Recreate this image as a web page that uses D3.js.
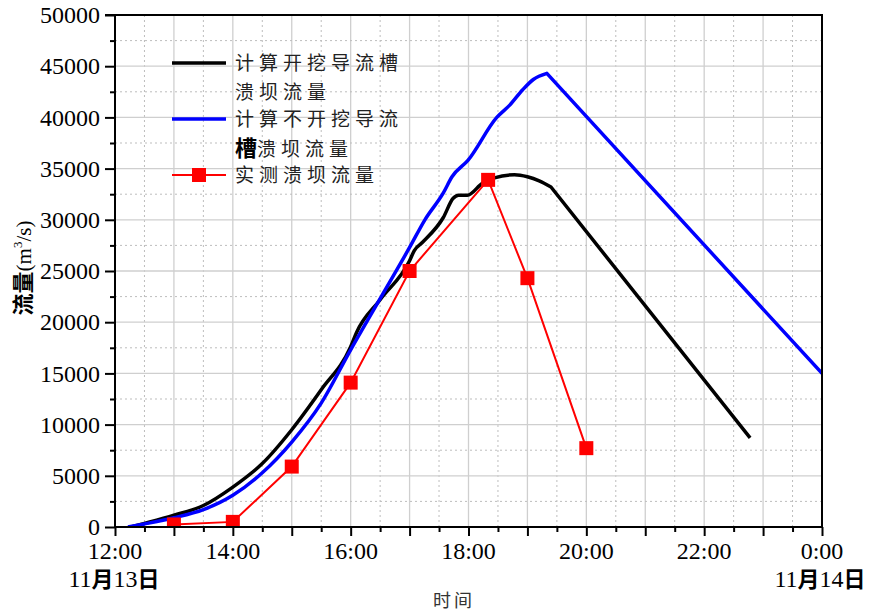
<!DOCTYPE html>
<html><head><meta charset="utf-8">
<script src="https://cdn.jsdelivr.net/npm/d3@7"></script>
<style>
body{margin:0;background:#fff;}
svg{display:block;}
</style></head>
<body>
<svg id="chart" width="869" height="613"></svg>
<script>
// ---- data (time in hours since 0:00 on 11/13; 24 = 0:00 11/14) ----
// rising (curved) part, then the final point is joined by a straight segment
const blackTimes  = [12.27,12.5,13.0,13.5,14.0,14.5,15.0,15.5,16.0,16.1,16.5,17.0,17.08,17.22,17.57,17.74,17.83,17.98,18.24,18.44,18.78,19.0,19.2,19.4,22.78];
const blackValues = [0,350,1150,2100,3900,6200,9500,13400,17600,19000,22200,26000,27000,27800,30200,32100,32400,32400,33600,34100,34400,34200,33800,33200,8700];
const blueTimes   = [12.22,12.5,13.0,13.5,14.0,14.5,15.0,15.5,16.0,16.5,17.0,17.26,17.57,17.72,17.99,18.48,18.70,18.92,19.1,19.33,24.0];
const blueValues  = [0,300,900,1700,3100,5300,8300,12100,17300,22300,27300,30000,32600,34200,35800,40000,41200,42700,43700,44300,15000];
const redTimes    = [13.0,14.0,15.0,16.0,17.0,18.333,19.0,20.0];
const redValues   = [250,500,5900,14100,25000,33900,24300,7700];
const seriesNames = ["计算开挖导流槽","溃坝流量","计算不开挖导流","槽","溃坝流量","实测溃坝流量"];
const xTickValues = [12,14,16,18,20,22,24];
const xTickLabels = ["12:00","14:00","16:00","18:00","20:00","22:00","0:00"];
const datePrefix  = ["11","11"];
const dateMonth   = "月";
const dateDays    = ["13","14"];
const dateSuffix  = "日";
const yTickValues = [0,5000,10000,15000,20000,25000,30000,35000,40000,45000,50000];

const SERIF = '"Liberation Serif"';
const CJK = '"Noto Sans CJK SC"';

const svg = d3.select("#chart");
const L = 115, R = 822, T = 15, B = 527;
const x = d3.scaleLinear().domain([12,24]).range([L,R]);
const y = d3.scaleLinear().domain([0,50000]).range([B,T]);

// grid
const g = svg.append("g");
const half = d3.range(12.5,24,1);
const hours = d3.range(13,24,1);
g.selectAll(".vd").data(half).join("line")
 .attr("x1",d=>x(d)).attr("x2",d=>x(d)).attr("y1",T).attr("y2",B)
 .attr("stroke","#bdbdbd").attr("stroke-width",1).attr("stroke-dasharray","2,3");
g.selectAll(".vs").data(hours).join("line")
 .attr("x1",d=>x(d)).attr("x2",d=>x(d)).attr("y1",T).attr("y2",B)
 .attr("stroke","#cfcfcf").attr("stroke-width",1.3);
g.selectAll(".hd").data(d3.range(2500,50000,5000)).join("line")
 .attr("y1",d=>y(d)).attr("y2",d=>y(d)).attr("x1",L).attr("x2",R)
 .attr("stroke","#bdbdbd").attr("stroke-width",1).attr("stroke-dasharray","2,3");
g.selectAll(".hs").data(d3.range(5000,50000,5000)).join("line")
 .attr("y1",d=>y(d)).attr("y2",d=>y(d)).attr("x1",L).attr("x2",R)
 .attr("stroke","#cfcfcf").attr("stroke-width",1.3);

// clip
svg.append("clipPath").attr("id","clip").append("rect")
 .attr("x",L).attr("y",T).attr("width",R-L).attr("height",B-T);
const plot = svg.append("g").attr("clip-path","url(#clip)");

const curveGen = d3.line().x(d=>x(d[0])).y(d=>y(d[1])).curve(d3.curveMonotoneX);
function curvedThenStraight(data){
  const head = data.slice(0,-1), last = data[data.length-1];
  return curveGen(head) + "L" + x(last[0]) + "," + y(last[1]);
}
const blackData = blackTimes.map((t,i)=>[t,blackValues[i]]);
const blueData = blueTimes.map((t,i)=>[t,blueValues[i]]);
const redData = redTimes.map((t,i)=>[t,redValues[i]]);

plot.append("path").attr("d",curvedThenStraight(blackData))
 .attr("fill","none").attr("stroke","#000").attr("stroke-width",3.5).attr("stroke-linejoin","round");
plot.append("path").attr("d",curvedThenStraight(blueData))
 .attr("fill","none").attr("stroke","#0000ff").attr("stroke-width",3.5).attr("stroke-linejoin","round");
plot.append("path").datum(redData).attr("d",d3.line().x(d=>x(d[0])).y(d=>y(d[1])))
 .attr("fill","none").attr("stroke","#ff0000").attr("stroke-width",2);
const ms = 14;
plot.selectAll(".rm").data(redData).join("rect")
 .attr("x",d=>x(d[0])-ms/2).attr("y",d=>y(d[1])-ms/2).attr("width",ms).attr("height",ms)
 .attr("fill","#ff0000");

// frame
const ax = svg.append("g").attr("stroke","#000").attr("stroke-width",2).attr("fill","none");
ax.append("line").attr("x1",105).attr("x2",R+1).attr("y1",T).attr("y2",T);
ax.append("line").attr("x1",R).attr("x2",R).attr("y1",T).attr("y2",B);

// x axis
const xAxis = d3.axisBottom(x).tickValues(d3.range(12,24.01,1)).tickSize(9).tickFormat("");
const xg = svg.append("g").attr("transform",`translate(0,${B})`).call(xAxis);
const xMinor = d3.axisBottom(x).tickValues(half).tickSize(5).tickFormat("");
const xg2 = svg.append("g").attr("transform",`translate(0,${B})`).call(xMinor);
[xg,xg2].forEach(s=>{s.attr("font-family",null).attr("font-size",null);s.select(".domain").attr("stroke-width",2).attr("d",`M${L-1},0H${R+1}`);s.selectAll(".tick line").attr("stroke-width",2);});
svg.append("g").selectAll("text").data(xTickValues).join("text")
 .style("font-family",SERIF).style("font-size","24px")
 .attr("x",d=>x(d)).attr("y",559).attr("text-anchor","middle").attr("fill","#000")
 .text((d,i)=>xTickLabels[i]);
[x(12)-1, x(24)-2].forEach((px,i)=>{
  const t = svg.append("text").attr("x",px).attr("y",587).attr("text-anchor","middle")
   .style("font-size","24px").attr("fill","#000");
  t.append("tspan").style("font-family",SERIF).text(datePrefix[i]);
  t.append("tspan").style("font-family",CJK).style("font-weight","bold").style("font-size","22px").text(dateMonth);
  t.append("tspan").style("font-family",SERIF).text(dateDays[i]);
  t.append("tspan").style("font-family",CJK).style("font-weight","bold").style("font-size","22px").text(dateSuffix);
});
svg.append("text").style("font-family",CJK).style("font-size","18px")
 .attr("x",454).attr("y",607).attr("text-anchor","middle").attr("fill","#333")
 .attr("letter-spacing",3).text("时间");

// y axis
const yAxis = d3.axisLeft(y).tickValues(yTickValues).tickSize(10).tickFormat("");
const yg = svg.append("g").attr("transform",`translate(${L},0)`).call(yAxis);
const yMinor = d3.axisLeft(y).tickValues(d3.range(2500,50000,5000)).tickSize(5).tickFormat("");
const yg2 = svg.append("g").attr("transform",`translate(${L},0)`).call(yMinor);
[yg,yg2].forEach(s=>{s.select(".domain").attr("stroke-width",2).attr("d",`M0,${T}V${B+1}`);s.selectAll(".tick line").attr("stroke-width",2);});
svg.append("g").selectAll("text").data(yTickValues).join("text")
 .style("font-family",SERIF).style("font-size","24px")
 .attr("x",100).attr("y",d=>y(d)).attr("dy","0.34em").attr("text-anchor","end").attr("fill","#000")
 .text(d=>d);

// y label
const yl = svg.append("text").attr("transform","translate(31,268) rotate(-90)")
 .attr("text-anchor","middle").style("font-size","22px").attr("fill","#000");
yl.append("tspan").style("font-family",CJK).style("font-weight","bold").text("流量");
yl.append("tspan").style("font-family",SERIF).style("font-size","21px").text("(m");
yl.append("tspan").style("font-family",SERIF).style("font-size","13px").attr("dy",-9).text("3");
yl.append("tspan").style("font-family",SERIF).style("font-size","21px").attr("dy",9).text("/s)");

// legend
const lg = svg.append("g");
const legFont = "19px", ls = 5, tx = 235;
function legText(yy, s){
  return lg.append("text").style("font-family",CJK).style("font-size",legFont)
   .attr("x",tx).attr("y",yy).attr("letter-spacing",ls).attr("fill","#222").text(s);
}
lg.append("line").attr("x1",172).attr("x2",226).attr("y1",63).attr("y2",63).attr("stroke","#000").attr("stroke-width",3.5);
legText(70, seriesNames[0]);
legText(99, seriesNames[1]);
lg.append("line").attr("x1",172).attr("x2",226).attr("y1",119).attr("y2",119).attr("stroke","#0000ff").attr("stroke-width",3.5);
legText(126, seriesNames[2]);
const t4 = lg.append("text").style("font-family",CJK).attr("x",tx).attr("y",156).attr("fill","#222");
t4.append("tspan").style("font-size","22px").style("font-weight","bold").attr("fill","#000").text(seriesNames[3]);
t4.append("tspan").style("font-size",legFont).attr("letter-spacing",ls).text(seriesNames[4]);
lg.append("line").attr("x1",172).attr("x2",226).attr("y1",175).attr("y2",175).attr("stroke","#ff0000").attr("stroke-width",2);
lg.append("rect").attr("x",199-7).attr("y",175-7).attr("width",14).attr("height",14).attr("fill","#ff0000");
legText(182, seriesNames[5]);
</script>
</body></html>
